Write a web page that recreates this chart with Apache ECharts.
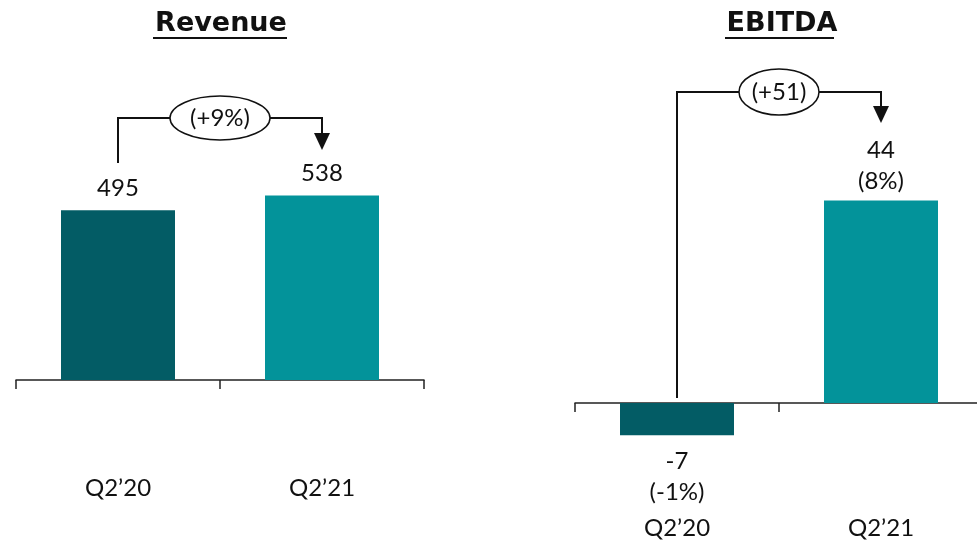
<!DOCTYPE html>
<html>
<head>
    <meta charset="utf-8">
    <title>Revenue / EBITDA</title>
    <style>
        html, body { margin: 0; padding: 0; background: #fff; }
        #main { width: 977px; height: 541px; }
    </style>
</head>
<body>
    <div id="main"></div>
    <script src="https://cdn.jsdelivr.net/npm/echarts@6/dist/echarts.min.js"></script>
    <script type="text/javascript">
        // data
        var categories = ['Q2\u201920', 'Q2\u201921'];
        var revenue = [495, 538];
        var ebitda = [-7, 44];
        var ebitdaMargin = ['(-1%)', '(8%)'];
        var revenueChange = '(+9%)';
        var ebitdaChange = '(+51)';
        var colors = ['#035c65', '#03939a'];

        var font = 'Lato, "Open Sans", sans-serif';
        var titleFont = '"DejaVu Sans", sans-serif';
        var chart = echarts.init(document.getElementById('main'));

        function barData(values) {
            var out = [];
            for (var i = 0; i < values.length; i++) {
                var item = { value: values[i], itemStyle: { color: colors[i] } };
                if (values[i] < 0) item.label = { position: 'bottom', distance: 11 };
                out.push(item);
            }
            return out;
        }

        var axisLine = { lineStyle: { color: '#222', width: 1.5 } };
        var axisTick = { show: true, length: 9, lineStyle: { color: '#222', width: 1.5 } };
        var labelStyle = { color: '#111', fontSize: 24, lineHeight: 24, fontFamily: font };

        var option = {
            animation: false,
            title: [
                { text: 'Revenue', left: 216, top: 5, textAlign: 'center',
                  textStyle: { fontSize: 27, fontWeight: 'bold', color: '#111', fontFamily: titleFont } },
                { text: 'EBITDA', left: 777, top: 5, textAlign: 'center',
                  textStyle: { fontSize: 27, fontWeight: 'bold', color: '#111', fontFamily: titleFont } }
            ],
            grid: [
                { left: 16, width: 408, top: 37, bottom: 161, outerBoundsMode: 'none' },
                { left: 575, width: 408, top: 127, bottom: 92, outerBoundsMode: 'none' }
            ],
            xAxis: [
                { type: 'category', gridIndex: 0, data: categories,
                  axisLine: axisLine, axisTick: axisTick,
                  axisLabel: echarts.util.extend({ margin: 96 }, labelStyle) },
                // zero line with ticks for EBITDA
                { type: 'category', gridIndex: 1, data: categories,
                  axisLine: axisLine, axisTick: axisTick, axisLabel: { show: false } },
                // category labels for EBITDA, at the bottom of the grid
                { type: 'category', gridIndex: 1, data: categories, position: 'bottom',
                  axisLine: { show: false, onZero: false }, axisTick: { show: false },
                  axisLabel: echarts.util.extend({ margin: 67 }, labelStyle) }
            ],
            yAxis: [
                { type: 'value', gridIndex: 0, min: 0, max: 1000, show: false },
                { type: 'value', gridIndex: 1, min: -10, max: 60, show: false }
            ],
            series: [
                {
                    type: 'bar', xAxisIndex: 0, yAxisIndex: 0, barWidth: 114,
                    data: barData(revenue),
                    label: { show: true, position: 'top', distance: 10, fontSize: 24,
                             color: '#111', fontFamily: font }
                },
                {
                    type: 'bar', xAxisIndex: 1, yAxisIndex: 1, barWidth: 114,
                    data: barData(ebitda),
                    label: { show: true, position: 'top', distance: 4, fontSize: 24,
                             lineHeight: 31, color: '#111', fontFamily: font,
                             formatter: function (p) {
                                 return p.value + '\n' + ebitdaMargin[p.dataIndex];
                             } }
                }
            ]
        };
        chart.setOption(option);

        // bracket annotations
        function bracket(axisIdx, yStart, yH, yTip, rx, ry, text) {
            var a = chart.convertToPixel({ xAxisIndex: axisIdx, yAxisIndex: axisIdx ? 1 : 0 }, [0, 0]);
            var b = chart.convertToPixel({ xAxisIndex: axisIdx, yAxisIndex: axisIdx ? 1 : 0 }, [1, 0]);
            var x0 = a[0], x1 = b[0], mid = (x0 + x1) / 2;
            var line = { stroke: '#111', lineWidth: 2 };
            return [
                { type: 'polyline', shape: { points: [[x0, yStart], [x0, yH], [x1, yH], [x1, yTip - 14]] },
                  style: echarts.util.extend({ fill: null }, line) },
                { type: 'polygon', shape: { points: [[x1 - 8, yTip - 17], [x1 + 8, yTip - 17], [x1, yTip]] },
                  style: { fill: '#111' } },
                { type: 'ellipse', shape: { cx: mid, cy: yH, rx: rx, ry: ry },
                  style: { fill: '#fff', stroke: '#111', lineWidth: 1.5 } },
                { type: 'text', x: mid, y: yH,
                  style: { text: text, fontSize: 24, fontFamily: font, fill: '#111',
                           align: 'center', verticalAlign: 'middle' } }
            ];
        }

        var graphics = []
            .concat(bracket(0, 163, 118, 150, 50, 22, revenueChange))
            .concat(bracket(1, 398, 92, 123, 40, 23, ebitdaChange))
            .concat([
                { type: 'line', shape: { x1: 153, y1: 38, x2: 287, y2: 38 },
                  style: { stroke: '#111', lineWidth: 2 } },
                { type: 'line', shape: { x1: 725, y1: 38, x2: 834, y2: 38 },
                  style: { stroke: '#111', lineWidth: 2 } }
            ]);
        chart.setOption({ graphic: graphics });
    </script>
</body>
</html>
